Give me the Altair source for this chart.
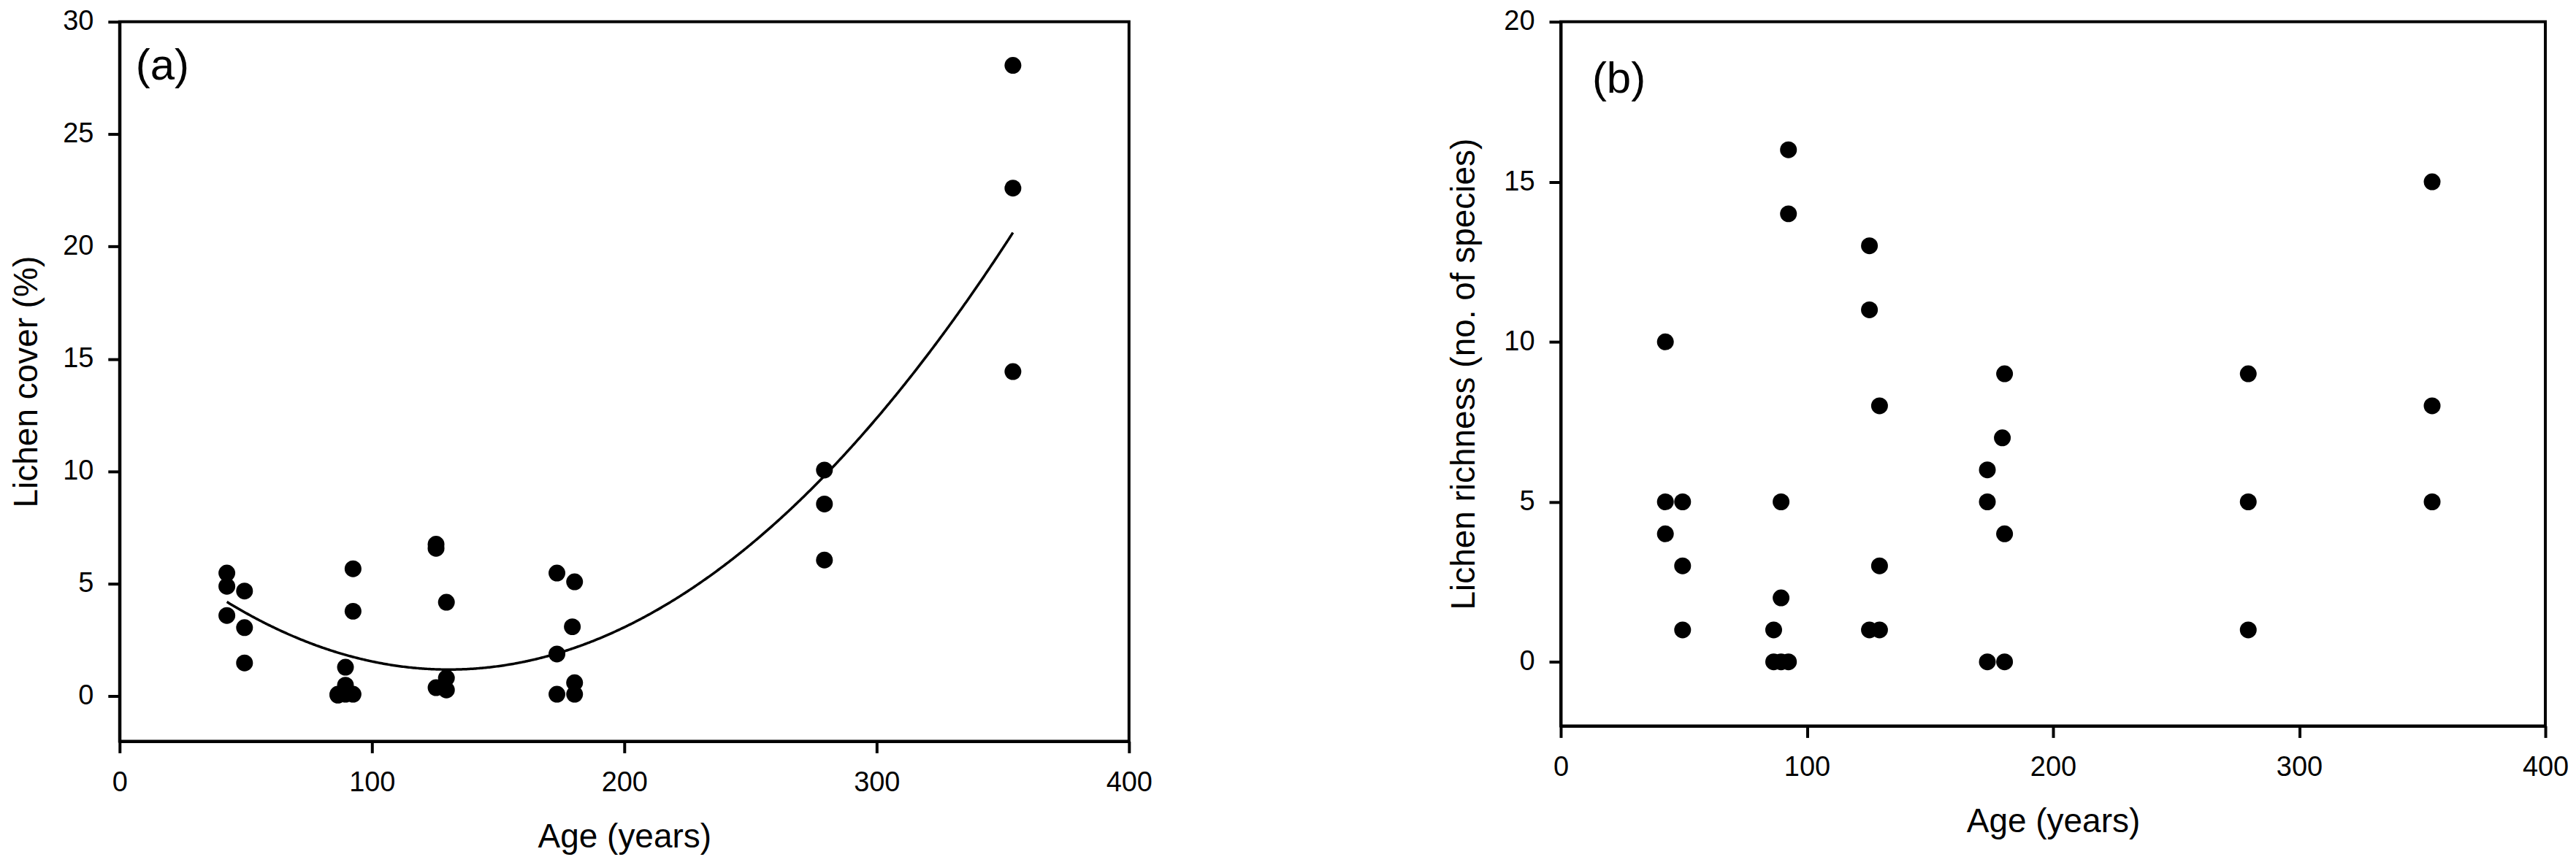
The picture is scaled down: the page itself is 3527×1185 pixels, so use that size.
import altair as alt
import pandas as pd

# ---- data ----
# panel (a): lichen cover (%) vs stand age (years)
age_a = [42.5, 42.5, 42.5, 49.5, 49.5, 49.5, 86.5, 86.5, 89.5, 89.5, 89.5,
         92.5, 92.5, 92.5, 125.4, 125.4, 125.4, 129.5, 129.5, 129.5,
         173.3, 173.3, 173.3, 179.4, 180.3, 180.3, 180.3,
         279.3, 279.3, 279.3, 354.0, 354.0, 354.0]
cover_a = [5.48, 4.89, 3.59, 4.68, 3.05, 1.48, 0.09, 0.05, 1.29, 0.49, 0.09,
           5.67, 3.78, 0.09, 6.76, 6.58, 0.38, 4.18, 0.81, 0.28,
           5.48, 1.88, 0.09, 3.09, 5.09, 0.60, 0.09,
           10.06, 8.55, 6.06, 28.06, 22.60, 14.44]

# fitted quadratic shown in panel (a): cover = b0 + b1*age + b2*age^2
fit_coef = [7.806, -0.10147, 0.0003889]
fit_range = [42.5, 354.5]

# panel (b): lichen richness (no. of species) vs stand age (years)
age_b = [42.5, 42.5, 42.5, 49.5, 49.5, 49.5, 86.5, 86.5, 89.5, 89.5, 89.5,
         92.5, 92.5, 92.5, 125.4, 125.4, 125.4, 129.5, 129.5, 129.5,
         173.3, 173.3, 173.3, 179.4, 180.3, 180.3, 180.3,
         279.3, 279.3, 279.3, 354.0, 354.0, 354.0]
rich_b = [10, 5, 4, 5, 3, 1, 1, 0, 5, 2, 0,
          16, 14, 0, 13, 11, 1, 8, 3, 1,
          6, 5, 0, 7, 9, 4, 0,
          9, 5, 1, 15, 8, 5]

x_ticks = [0, 100, 200, 300, 400]
cover_ticks = [0, 5, 10, 15, 20, 25, 30]
rich_ticks = [0, 5, 10, 15, 20]
panel_labels = ["(a)", "(b)"]

FONT = "Liberation Sans"

df_a = pd.DataFrame({"age": age_a, "cover": cover_a})
df_b = pd.DataFrame({"age": age_b, "rich": rich_b})


def x_enc(label_pad, title_pad):
    return alt.X(
        "age:Q",
        title="Age (years)",
        scale=alt.Scale(domain=[0, 400], nice=False, zero=False),
        axis=alt.Axis(values=x_ticks, labelPadding=label_pad,
                      titlePadding=title_pad),
    )


# ---- panel (a) ----
ya = alt.Y(
    "cover:Q",
    title="Lichen cover (%)",
    scale=alt.Scale(domain=[-2, 30], nice=False, zero=False),
    axis=alt.Axis(values=cover_ticks, titlePadding=25),
)
pts_a = alt.Chart(df_a).mark_point(
    filled=True, shape="circle", size=530, color="black", opacity=1
).encode(x=x_enc(22, 33), y=ya)

b0, b1, b2 = fit_coef
fit_a = alt.Chart(alt.sequence(fit_range[0], fit_range[1], 0.5, as_="age")).transform_calculate(
    cover=f"{b0} + ({b1})*datum.age + ({b2})*datum.age*datum.age"
).mark_line(color="black", strokeWidth=3.5).encode(x="age:Q", y="cover:Q")

lab_a = alt.Chart(pd.DataFrame({"t": [panel_labels[0]]})).mark_text(
    font=FONT, fontSize=60, align="left", baseline="alphabetic", color="black"
).encode(text="t:N", x=alt.value(22), y=alt.value(79))
panel_a = alt.layer(pts_a, fit_a, lab_a).properties(width=1384, height=987)

# ---- panel (b) ----
yb = alt.Y(
    "rich:Q",
    title="Lichen richness (no. of species)",
    scale=alt.Scale(domain=[-2, 20], nice=False, zero=False),
    axis=alt.Axis(values=rich_ticks, titlePadding=30),
)
pts_b = alt.Chart(df_b).mark_point(
    filled=True, shape="circle", size=530, color="black", opacity=1
).encode(x=x_enc(22, 33), y=yb)
lab_b = alt.Chart(pd.DataFrame({"t": [panel_labels[1]]})).mark_text(
    font=FONT, fontSize=60, align="left", baseline="alphabetic", color="black"
).encode(text="t:N", x=alt.value(43), y=alt.value(97))
panel_b = alt.layer(pts_b, lab_b).properties(width=1350, height=966)

chart = alt.hconcat(panel_a, panel_b, spacing=400).properties(
    padding={"left": 3, "top": 0, "right": 0, "bottom": 0},
    background="white",
).configure_view(
    stroke="black", strokeWidth=4
).configure_axis(
    grid=False,
    domainColor="black", domainWidth=4,
    tickColor="black", tickWidth=4, tickSize=16,
    labelFont=FONT, labelFontSize=38, labelColor="black", labelPadding=20,
    titleFont=FONT, titleFontSize=46, titleFontWeight="normal", titleColor="black",
    labelFlush=False, labelOverlap=False,
)

chart.save("out.html", embed_options={"renderer": "svg", "actions": False})
